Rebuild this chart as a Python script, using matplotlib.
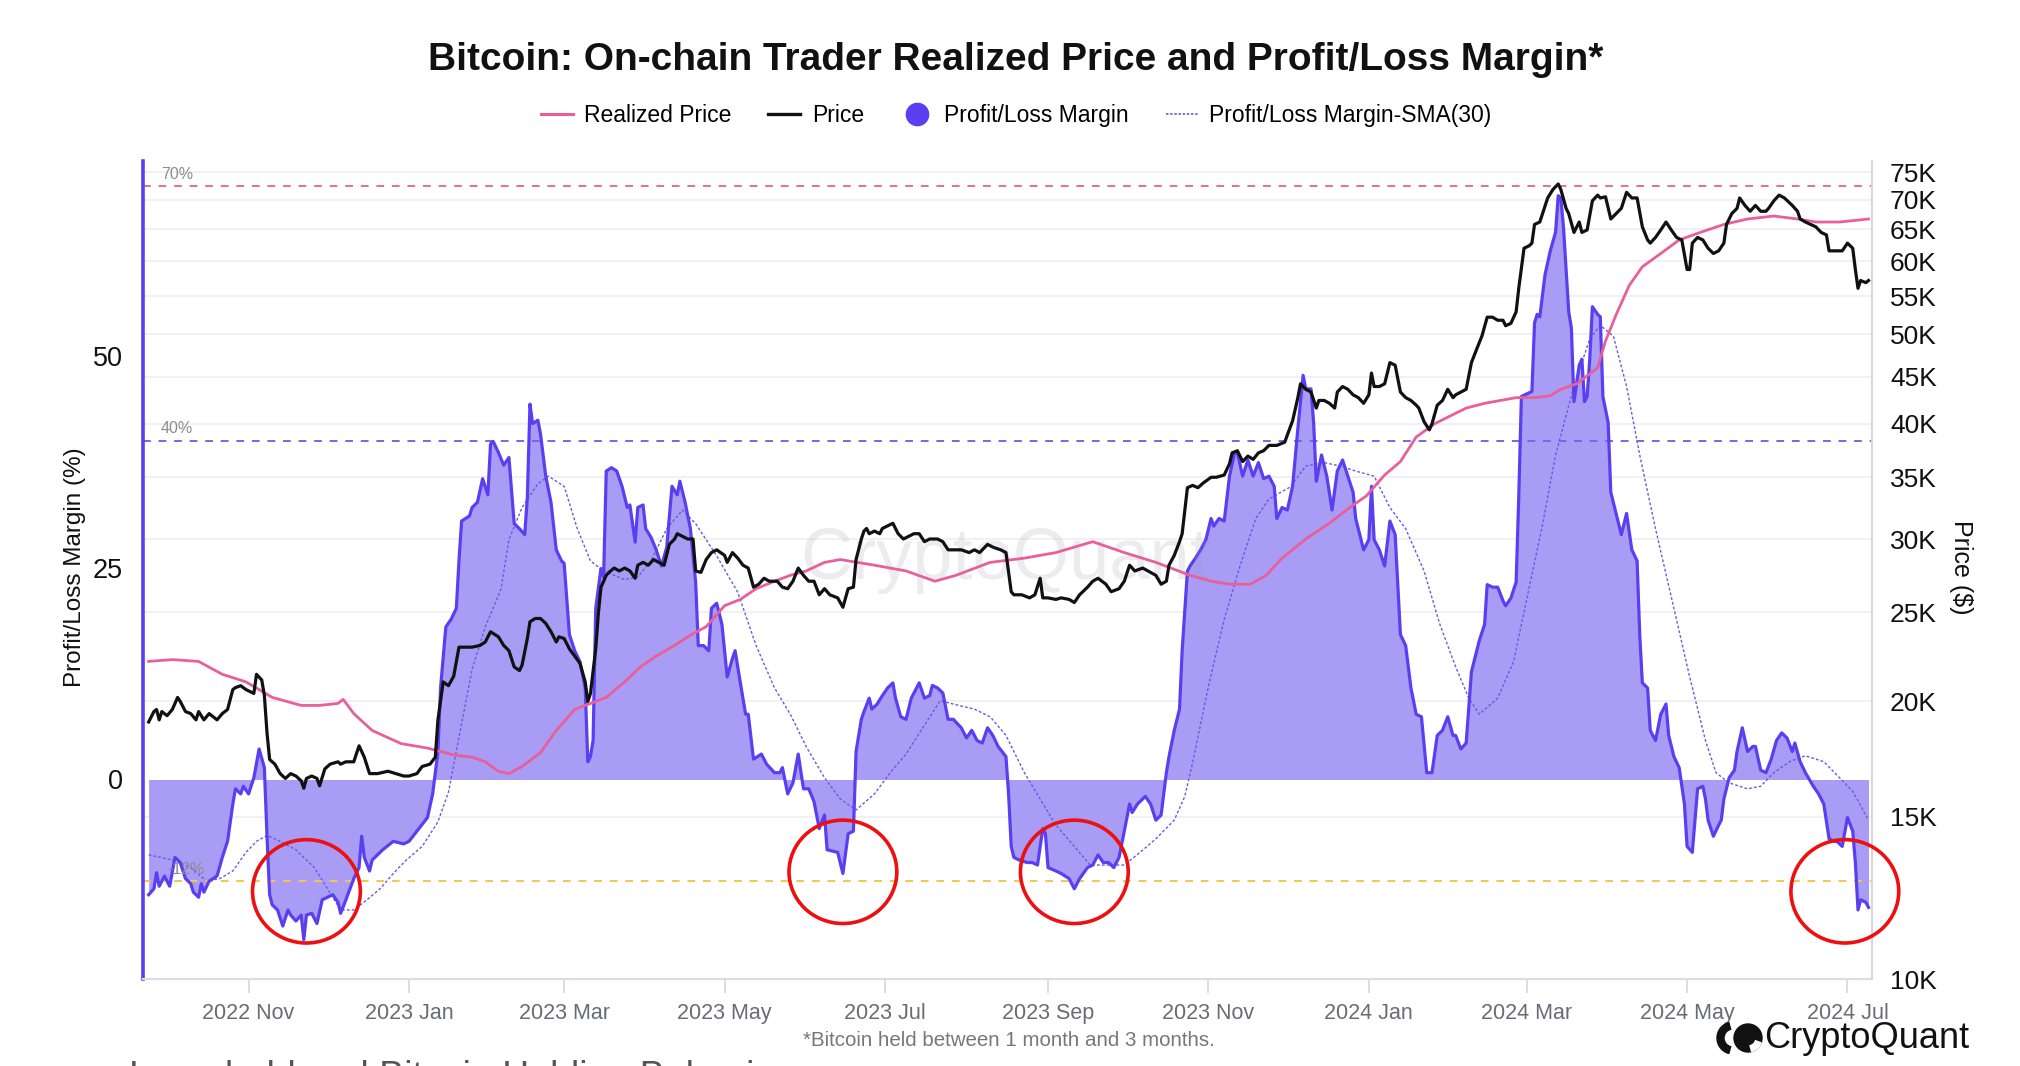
import pandas as pd
import numpy as np
import matplotlib
matplotlib.use("Agg")
import matplotlib.pyplot as plt
import matplotlib.dates as mdates
from matplotlib.lines import Line2D
from matplotlib.patches import Ellipse, Wedge, Circle
from matplotlib.transforms import IdentityTransform
from matplotlib.ticker import FixedLocator, NullLocator, FixedFormatter

plt.rcParams['font.family'] = ['Liberation Sans', 'DejaVu Sans']

# all days are offsets from this date
BASE = pd.Timestamp("2022-11-01")

# Profit/Loss Margin (%)
margin = [(-38, -13.6), (-36, -12.9), (-35, -11.0), (-34, -12.6), (-32, -11.4), (-30, -12.6), (-28, -9.2),
          (-26, -9.8), (-24, -11.7), (-22, -12.3), (-21, -13.3), (-19, -13.9), (-18, -12.3), (-17, -13.3),
          (-15, -12.0), (-12, -11.4), (-10, -9.2), (-8, -7.3), (-6, -2.9), (-5, -1.1), (-3, -1.7), (-2, -0.8),
          (0, -1.7), (2, 0.2), (4, 3.6), (6, 1.4), (7, -6.7), (8, -13.6), (9, -14.8), (11, -15.4), (13, -17.3),
          (15, -15.4), (16, -16.0), (18, -16.7), (20, -16.0), (21, -18.9), (22, -16.0), (24, -15.8), (26, -17.0),
          (28, -14.2), (30, -13.9), (32, -13.6), (34, -14.5), (35, -15.8), (37, -14.2), (40, -11.7), (42, -10.4),
          (43, -6.7), (44, -9.2), (46, -10.8), (47, -9.5), (51, -8.3), (55, -7.3), (59, -7.6), (61, -7.3),
          (64, -6.1), (68, -4.5), (70, -1.7), (72, 3.3), (73, 10.8), (75, 18.0), (77, 18.9), (79, 20.2),
          (80, 25.8), (81, 30.5), (84, 31.1), (85, 32.1), (87, 32.7), (89, 35.5), (91, 33.6),
          (92, 39.6), (93, 39.9), (95, 38.6), (97, 37.1), (99, 38.0), (101, 30.2), (103, 29.6), (105, 28.9),
          (106, 33.3), (107, 44.3), (108, 42.0), (110, 42.4), (111, 40.8), (113, 35.8), (115, 32.7), (117, 27.1),
          (119, 25.8), (120, 25.5), (122, 17.1), (124, 15.2), (126, 13.9), (128, 10.8), (129, 2.1), (130, 2.7),
          (131, 4.6), (132, 20.2), (134, 24.9), (135, 23.9), (136, 36.4), (138, 36.8), (140, 36.4), (142, 34.6),
          (144, 32.1), (145, 32.4), (147, 28.0), (148, 32.1), (150, 32.4), (151, 29.6), (153, 28.6), (155, 27.1),
          (157, 25.2), (159, 27.4), (161, 34.6), (163, 33.6), (164, 35.2), (166, 32.7), (168, 29.6), (170, 23.3),
          (171, 15.8), (173, 15.8), (175, 15.2), (176, 20.2), (178, 20.8), (180, 18.3), (182, 12.1), (184, 14.3),
          (185, 15.2), (187, 11.4), (189, 7.7), (190, 7.7), (192, 2.4), (195, 3.0), (197, 1.8), (200, 0.8),
          (202, 0.8), (203, 1.4), (205, -1.7), (207, -0.4), (209, 3.0), (211, -1.1), (213, -1.1), (215, -2.6),
          (217, -5.8), (219, -4.2), (220, -8.3), (224, -8.6),
          (226, -11.1), (228, -6.4), (230, -6.1), (231, 3.3), (233, 7.1), (234, 8.0), (236, 9.6), (237, 8.3),
          (239, 8.9), (241, 9.9), (243, 10.8), (245, 11.4), (246, 9.6), (248, 7.4), (250, 7.1), (252, 9.6),
          (253, 10.2), (255, 11.4), (257, 9.6), (259, 9.9), (260, 11.1), (262, 10.8), (264, 10.2), (266, 7.1),
          (268, 7.1), (271, 6.1), (273, 4.9), (275, 5.8), (277, 4.6), (279, 4.3), (281, 6.1), (283, 5.2),
          (285, 3.9), (288, 2.7), (289, -1.7), (290, -7.9), (291, -9.2), (293, -9.5), (296, -9.8), (298, -9.8),
          (300, -10.1), (302, -5.8), (303, -6.4), (304, -10.4), (307, -10.8), (309, -11.1), (312, -11.7),
          (314, -12.9), (316, -11.7), (319, -10.4), (321, -10.1), (323, -8.9), (325, -9.8), (327, -9.8),
          (329, -10.4), (331, -9.2), (333, -6.1), (335, -2.9), (336, -3.9), (338, -2.9), (341, -2.0), (343, -2.9),
          (345, -4.8), (347, -4.2), (349, 0.8), (350, 2.7), (352, 5.8), (354, 8.3), (355, 15.2), (357, 24.6),
          (358, 25.2), (360, 26.1), (362, 27.1), (364, 28.3), (366, 30.8), (367, 29.9), (369, 30.8), (371, 30.5),
          (373, 35.8), (375, 38.6), (376, 38.6), (378, 35.8), (380, 37.7), (382, 35.8), (384, 37.4), (386, 35.5),
          (388, 35.8), (390, 34.6), (391, 30.8), (393, 32.1), (395, 31.8), (397, 34.6), (399, 41.4), (401, 47.7),
          (402, 46.1), (404, 46.1), (405, 42.1), (406, 35.2), (408, 38.3), (410, 35.8), (412, 31.8), (414, 36.4),
          (416, 37.7), (418, 35.8), (420, 33.9), (421, 30.8), (424, 27.1), (426, 28.3), (427, 34.6), (428, 28.3),
          (430, 27.1), (432, 25.2), (434, 30.5), (436, 28.9), (438, 17.1), (440, 15.8), (442, 10.8), (444, 7.7),
          (446, 7.4), (448, 0.8), (450, 0.8), (452, 5.2), (454, 5.8), (456, 7.4), (458, 5.2), (459, 5.2),
          (461, 3.6), (463, 4.3), (465, 12.7), (468, 16.4), (470, 18.3), (471, 23.0), (473, 22.7), (475, 22.7),
          (477, 21.1), (478, 20.5), (480, 21.4), (482, 23.3), (483, 33.3), (484, 45.2), (486, 45.5), (488, 45.8),
          (489, 53.9), (490, 54.9),
          (491, 54.6), (493, 59.6), (495, 62.4), (497, 64.6), (498, 68.9), (499, 68.6), (500, 65.2), (502, 55.2),
          (503, 53.3), (504, 44.6), (506, 48.9), (507, 49.6), (508, 44.6), (509, 45.2), (510, 49.6), (511, 55.8),
          (513, 54.9), (514, 54.6), (515, 45.2), (517, 42.1), (518, 33.9), (520, 31.4), (522, 28.9), (524, 31.4),
          (526, 27.1), (528, 25.8), (529, 17.1), (530, 11.4), (532, 10.8), (533, 5.8), (535, 4.6), (537, 7.7),
          (539, 8.9), (540, 5.2), (542, 2.7), (544, 1.4), (546, -2.9), (547, -7.9), (549, -8.6), (551, -1.1),
          (553, -0.8), (554, -2.3), (555, -4.8), (557, -6.7), (559, -5.4), (560, -4.8), (561, -2.3), (563, 0.2),
          (565, 1.1), (566, 3.3), (568, 6.1), (570, 3.3), (572, 3.9), (573, 3.9), (575, 1.1), (577, 0.8),
          (579, 2.4), (581, 4.6), (583, 5.5), (585, 4.9), (587, 3.3), (588, 4.3), (590, 2.1), (592, 0.8),
          (595, -0.8), (597, -1.7), (599, -2.9), (601, -7.0), (603, -7.3), (604, -7.3), (606, -7.9), (608, -4.5),
          (610, -6.1), (611, -9.8), (612, -15.4), (613, -14.2), (615, -14.5), (616, -15.1)]

# Profit/Loss Margin SMA(30)
margin_sma = [(-38, -8.9), (-29, -9.5), (-22, -10.4), (-16, -12.0), (-11, -11.7), (-6, -10.8), (-1, -8.6),
              (3, -7.3), (7, -6.6), (12, -7.3), (18, -8.3), (25, -10.4), (30, -12.9), (35, -15.4), (40, -15.4),
              (45, -14.2), (50, -12.9), (55, -11.1), (60, -9.5), (66, -7.9), (72, -5.0), (76, -1.5), (80, 5.0),
              (85, 13.0), (90, 18.0), (96, 22.5), (99, 28.3), (104, 32.1), (110, 34.9), (114, 35.8), (120, 34.6),
              (125, 29.6), (130, 25.8), (135, 24.6), (143, 23.6), (148, 23.9), (153, 25.8), (159, 29.6),
              (165, 31.8), (170, 30.2), (178, 26.4), (186, 22.1), (193, 15.8), (200, 10.8), (206, 7.7), (212, 3.9),
              (219, 0.2), (225, -2.3), (231, -3.6), (238, -1.7), (244, 0.8), (250, 3.0), (257, 6.4), (263, 9.3),
              (268, 8.9), (276, 8.3), (282, 7.4), (288, 5.2), (295, 0.8), (301, -2.3), (307, -5.4), (314, -7.9),
              (320, -10.1), (326, -10.1), (333, -10.1), (339, -8.6), (345, -7.0), (352, -4.8), (356, -2.0),
              (359, 2.0), (362, 6.5), (365, 11.0), (371, 18.9), (377, 25.2), (383, 30.8), (388, 33.1), (396, 34.5),
              (402, 37.0), (409, 37.4), (415, 37.0), (421, 36.4), (428, 35.8), (434, 32.1), (440, 29.6),
              (447, 24.6), (453, 18.3), (459, 13.3), (464, 9.6), (468, 7.7), (475, 9.6), (481, 13.9), (487, 22.7),
              (492, 30.0), (497, 38.3), (504, 46.4), (510, 52.0), (514, 53.6), (519, 52.3), (524, 46.4),
              (529, 38.3), (535, 29.6), (542, 20.2), (548, 12.1), (554, 4.6), (558, 0.8), (563, -0.4), (570, -1.1),
              (575, -0.8), (580, 0.8), (586, 2.1), (592, 2.8), (599, 2.1), (605, 0.2), (610, -1.4), (616, -4.8)]

# BTC price, thousands of $
price = [(-38, 19.0), (-36, 19.5), (-35, 19.6), (-34, 19.1), (-33, 19.5), (-31, 19.3), (-29, 19.6), (-27, 20.2),
         (-26, 20.0), (-24, 19.5), (-22, 19.4), (-20, 19.1), (-19, 19.5), (-17, 19.1), (-15, 19.4), (-12, 19.1),
         (-10, 19.4), (-8, 19.6), (-6, 20.6), (-5, 20.7), (-3, 20.8), (-1, 20.6), (2, 20.4), (3, 21.4), (5, 21.1),
         (6, 20.3), (7, 18.5), (8, 17.3), (10, 17.1), (12, 16.7), (14, 16.5), (16, 16.7), (18, 16.6), (20, 16.4),
         (21, 16.1), (22, 16.5), (24, 16.6), (26, 16.5), (27, 16.2), (29, 16.9), (31, 17.1), (34, 17.2),
         (35, 17.1), (37, 17.2), (40, 17.2), (42, 17.9), (44, 17.4), (46, 16.7), (49, 16.7), (53, 16.8),
         (56, 16.7), (59, 16.6), (61, 16.6), (64, 16.7), (66, 17.0), (69, 17.1), (71, 17.4), (72, 19.1),
         (74, 21.0), (76, 20.8), (78, 21.3), (80, 22.9), (83, 22.9), (85, 22.9), (88, 23.0), (90, 23.2),
         (92, 23.8), (95, 23.5), (97, 23.0), (99, 22.7), (101, 21.8), (103, 21.6), (104, 21.9), (106, 23.4),
         (107, 24.4), (109, 24.6), (111, 24.6), (113, 24.3), (115, 23.8), (117, 23.2), (118, 23.5), (120, 23.4),
         (122, 22.8), (124, 22.4), (126, 22.0), (128, 21.0), (129, 20.0), (130, 20.4), (132, 22.8), (133, 24.9),
         (134, 26.6), (136, 27.4), (137, 27.6), (139, 27.9), (141, 27.7), (143, 27.9), (145, 27.7), (147, 27.2),
         (148, 28.1), (150, 28.3), (152, 28.1), (154, 28.5), (156, 28.3), (158, 28.1), (160, 29.6), (162, 30.0),
         (163, 30.4), (165, 30.2), (167, 30.0), (169, 30.0), (170, 27.7), (172, 27.6), (174, 28.5), (176, 29.0),
         (178, 29.2), (181, 28.8), (182, 28.3), (184, 29.0), (186, 28.6), (188, 28.1), (190, 27.9), (192, 26.6),
         (194, 26.8), (196, 27.2), (198, 27.0), (201, 27.0), (203, 26.6), (205, 26.5), (207, 27.0), (209, 27.9),
         (211, 27.4), (213, 27.0), (215, 27.0), (217, 26.1), (219, 26.5), (221, 26.1), (224, 25.9), (226, 25.3),
         (228, 26.5), (230, 26.6), (231, 28.5), (233, 30.0), (234, 30.6), (235, 30.8), (236, 30.4), (238, 30.6),
         (240, 30.4), (241, 30.8), (243, 31.0), (245, 31.2), (247, 30.4), (249, 30.0), (251, 30.2), (253, 30.4),
         (255, 30.4), (257, 29.8), (259, 30.0), (262, 30.0), (264, 29.8), (266, 29.2), (269, 29.2), (271, 29.2),
         (274, 29.0), (276, 29.2), (278, 29.0), (281, 29.6), (283, 29.4), (286, 29.2), (288, 29.0), (290, 26.3),
         (291, 26.1), (294, 26.1), (297, 25.9), (299, 26.1), (301, 27.2), (302, 25.9), (304, 25.9), (307, 25.8),
         (309, 25.9), (312, 25.8), (314, 25.6), (316, 26.1), (319, 26.6), (321, 27.0), (323, 27.2), (326, 26.8),
         (328, 26.3), (331, 26.5), (333, 27.0), (335, 28.1), (337, 27.7), (340, 27.9), (342, 27.7), (345, 27.4),
         (347, 26.8), (349, 27.0), (350, 28.1), (352, 28.8), (354, 29.8), (355, 30.4), (357, 34.1), (359, 34.3),
         (361, 34.1), (363, 34.5), (366, 35.0), (368, 35.0), (371, 35.2), (373, 36.2), (374, 37.2), (376, 37.4),
         (378, 36.4), (380, 36.9), (382, 36.6), (384, 37.2), (386, 37.4), (388, 37.9), (391, 37.9), (394, 38.2),
         (395, 38.9), (397, 40.3), (399, 42.7), (400, 44.2), (402, 43.6), (404, 43.3), (406, 41.6), (407, 42.4),
         (409, 42.4), (411, 42.1), (413, 41.6), (414, 43.3), (416, 43.9), (418, 43.6), (420, 43.0), (422, 42.7),
         (424, 42.1), (426, 43.0), (427, 45.4), (428, 43.9), (430, 43.9), (432, 44.2), (434, 46.6), (436, 46.3),
         (438, 43.3), (440, 42.7), (442, 42.4), (444, 41.9), (445, 41.6), (447, 40.2), (449, 39.4), (450, 40.0),
         (452, 41.9), (454, 42.4), (456, 43.6), (458, 42.7), (459, 43.0), (461, 43.3), (463, 43.6), (465, 46.6),
         (467, 48.2), (469, 49.8), (471, 52.2), (473, 52.2), (475, 51.8), (477, 51.8), (478, 51.1), (480, 51.4),
         (482, 52.9), (483, 56.1), (485, 62.0), (487, 62.4), (488, 62.8), (489, 65.8), (491, 66.2), (494, 70.3),
         (496, 71.8), (498, 72.8), (499, 71.8), (501, 68.5), (502, 67.6), (504, 64.5), (506, 66.2), (507, 64.5),
         (509, 64.9), (511, 69.8), (513, 70.8), (514, 70.3), (516, 70.5), (518, 66.7), (520, 67.6), (522, 68.5),
         (524, 71.3), (526, 70.3), (528, 70.3), (530, 65.4), (532, 63.3), (533, 62.8), (535, 63.7), (537, 64.9),
         (539, 66.2), (541, 64.9), (543, 63.7), (545, 63.3), (547, 58.8), (548, 58.8), (549, 62.8), (551, 63.7),
         (553, 63.3), (555, 62.0), (557, 61.2), (559, 61.6), (561, 62.8), (562, 65.8), (564, 67.6), (566, 68.5),
         (567, 70.3), (569, 69.0), (571, 68.0), (573, 69.0), (575, 68.0), (577, 68.0), (578, 68.5), (580, 69.8),
         (582, 70.8), (584, 70.3), (587, 69.0), (589, 68.0), (590, 66.7), (592, 66.2), (594, 65.8), (596, 65.4),
         (598, 64.5), (600, 64.1), (601, 61.6), (604, 61.6), (606, 61.6), (608, 62.8), (610, 62.0), (611, 58.8),
         (612, 56.1), (613, 57.2), (615, 56.9), (616, 57.2)]

# on-chain trader realized price, thousands of $
realized = [(-38, 22.1), (-29, 22.2), (-19, 22.1), (-10, 21.4), (-1, 21.0), (9, 20.2), (20, 19.8), (27, 19.8),
            (34, 19.9), (36, 20.1), (40, 19.4), (47, 18.6), (58, 18.0), (68, 17.8), (78, 17.5), (85, 17.4),
            (90, 17.2), (95, 16.8), (99, 16.7), (104, 17.0), (111, 17.6), (117, 18.6), (124, 19.6), (130, 19.9),
            (136, 20.2), (143, 21.0), (149, 21.8), (155, 22.4), (162, 23.0), (168, 23.6), (174, 24.1), (181, 25.4),
            (187, 25.8), (193, 26.5), (200, 27.0), (206, 27.4), (212, 27.7), (219, 28.3), (225, 28.5), (238, 28.1),
            (250, 27.7), (261, 27.0), (269, 27.4), (282, 28.3), (295, 28.6), (307, 29.0), (321, 29.8), (333, 29.0),
            (345, 28.3), (358, 27.4), (366, 27.0), (373, 26.8), (381, 26.8), (387, 27.4), (393, 28.6), (402, 30.0),
            (411, 31.2), (419, 32.5), (425, 33.4), (432, 35.2), (438, 36.4), (444, 38.7), (451, 40.0), (457, 40.8),
            (463, 41.6), (470, 42.1), (476, 42.4), (482, 42.7), (489, 42.7), (495, 42.9), (499, 43.6), (505, 44.2),
            (513, 46.0), (516, 49.2), (520, 52.5), (525, 56.5), (530, 59.2), (537, 61.2), (544, 63.3), (552, 64.5),
            (561, 65.8), (570, 66.7), (580, 67.2), (589, 66.7), (596, 66.2), (605, 66.2), (616, 66.7)]

month_ticks = ["2022-11-01", "2023-01-01", "2023-03-01", "2023-05-01", "2023-07-01", "2023-09-01",
               "2023-11-01", "2024-01-01", "2024-03-01", "2024-05-01", "2024-07-01"]
margin_ticks = [0, 25, 50]
price_ticks = [10, 15, 20, 25, 30, 35, 40, 45, 50, 55, 60, 65, 70, 75]
levels = [70, 40, -12]
level_names = ["70%", "40%", "-12%"]
# highlighted lows (day, margin)
circled = [(22, -13.2), (226, -10.9), (314, -10.9), (607, -13.2)]


def to_dates(days):
    return BASE + pd.to_timedelta(list(days), unit="D")


m_days, m_vals = zip(*margin)
s_days, s_vals = zip(*margin_sma)
p_days, p_vals = zip(*price)
r_days, r_vals = zip(*realized)
m_dates = to_dates(m_days)

PURPLE = "#5a3ff0"
FILL = "#a89cf4"
PINK = "#e8609a"

fig = plt.figure(figsize=(20.2, 10.66), dpi=100)
ax = fig.add_axes([0.0706, 0.0816, 0.8561, 0.7674])
ax2 = ax.twinx()

x0 = BASE - pd.Timedelta(days=40.3)
x1 = BASE + pd.Timedelta(days=617.3)
ax.set_xlim(x0, x1)
ax.set_ylim(-23.55, 73)
ax2.set_yscale("log")
ax2.set_ylim(10, 77.1)

# horizontal grid follows the price axis ticks
lo, hi = np.log(10), np.log(77.1)
for p in price_ticks:
    f = (np.log(p) - lo) / (hi - lo)
    ax.plot([0, 1], [f, f], transform=ax.transAxes, color="#efeff3", lw=1.2, zorder=0.5)

ax.fill_between(m_dates, 0, m_vals, color=FILL, lw=0, zorder=1)
ax.plot(to_dates(s_days), s_vals, color="#6b58ea", lw=1.0, ls=(0, (2, 1.5)), zorder=2)
ax.plot(m_dates, m_vals, color=PURPLE, lw=2.3, zorder=3)

level_colors = ["#e8737f", "#7a64ec", "#f0c84e"]
for lv, name, c in zip(levels, level_names, level_colors):
    ax.axhline(lv, color=c, lw=1.4, ls=(0, (4, 4)), zorder=2.5)
    ax.text(0.0106 if lv > 0 else 0.0144, lv + 0.5, name, transform=ax.get_yaxis_transform(),
            color="#8c8c8c", fontsize=11.5, va="bottom", ha="left", zorder=4)

ax2.plot(to_dates(r_days), r_vals, color=PINK, lw=2.0, zorder=3)
ax2.plot(to_dates(p_days), p_vals, color="#111111", lw=2.3, zorder=4)

for d, v in circled:
    cx = mdates.date2num(BASE + pd.Timedelta(days=d))
    ax2.add_patch(Ellipse((cx, v), width=41, height=12.2, transform=ax.transData,
                          fill=False, ec="#ee1010", lw=2.6, zorder=6, clip_on=False))

ax.text(0.4987, 0.512, "CryptoQuant", transform=ax.transAxes, ha="center", va="center",
        fontsize=52, color="#9a9aa8", alpha=0.18, zorder=5)

# axes styling
ax.set_xticks(to_dates([(pd.Timestamp(t) - BASE).days for t in month_ticks]))
ax.xaxis.set_major_formatter(mdates.DateFormatter("%Y %b"))
ax.tick_params(axis="x", colors="#d6d6e0", length=10, width=1.2, pad=7, labelsize=15.5, labelcolor="#6b6b78")
ax.set_yticks(margin_ticks)
ax.tick_params(axis="y", length=0, pad=14, labelsize=19.5, labelcolor="#111111")
ax2.yaxis.set_major_locator(FixedLocator(price_ticks))
ax2.yaxis.set_major_formatter(FixedFormatter([f"{p}K" for p in price_ticks]))
ax2.yaxis.set_minor_locator(NullLocator())
ax2.tick_params(axis="y", length=0, pad=13, labelsize=19, labelcolor="#111111")

for s in ["top", "right"]:
    ax.spines[s].set_visible(False)
for s in ["top", "left", "bottom"]:
    ax2.spines[s].set_visible(False)
ax.spines["left"].set_color(PURPLE)
ax.spines["left"].set_linewidth(2.6)
ax.spines["bottom"].set_color("#dcdce8")
ax.spines["bottom"].set_linewidth(1.5)
ax2.spines["right"].set_color("#d6d6e0")
ax2.spines["right"].set_linewidth(1.5)

fig.text(0.037, 0.468, "Profit/Loss Margin (%)", rotation=90, ha="center", va="center",
         fontsize=17.5, color="#111111")
fig.text(0.9708, 0.468, "Price ($)", rotation=270, ha="center", va="center", fontsize=18, color="#111111")

fig.text(0.503, 0.944, "Bitcoin: On-chain Trader Realized Price and Profit/Loss Margin*",
         ha="center", va="center", fontsize=28, weight="bold", color="#111111")

handles = [Line2D([], [], color=PINK, lw=2.2),
           Line2D([], [], color="#111111", lw=2.4),
           Line2D([], [], ls="none", marker="o", markersize=16, color=PURPLE),
           Line2D([], [], color="#6b58ea", lw=1.2, ls=(0, (1.5, 1)))]
labels = ["Realized Price", "Price", "Profit/Loss Margin", "Profit/Loss Margin-SMA(30)"]
fig.legend(handles, labels, loc="center", bbox_to_anchor=(0.503, 0.892), ncol=4, frameon=False,
           fontsize=16.5, handlelength=1.4, handletextpad=0.5, columnspacing=1.6)

fig.text(0.4995, 0.024, "*Bitcoin held between 1 month and 3 months.", ha="center", va="center",
         fontsize=14.8, color="#777777")

# CryptoQuant logo
px = IdentityTransform()
fig.add_artist(Wedge((1733, 28), 16, 105, 255, width=7, color="#111111", transform=px))
fig.add_artist(Circle((1748, 28), 14, color="#111111", transform=px))
fig.add_artist(Wedge((1748, 28), 14, -75, -20, width=6, color="white", transform=px))
fig.text(1764 / 2020, 0.0255, "CryptoQuant", ha="left", va="center", fontsize=26, color="#111111",
         weight="medium")

# next section heading, cut off at the bottom edge
fig.text(0.064, -0.021, "Long-held and Bitcoin Holding Behavior", ha="left", va="baseline",
         fontsize=27, color="#555555")

fig.savefig("out.png", dpi=100)
